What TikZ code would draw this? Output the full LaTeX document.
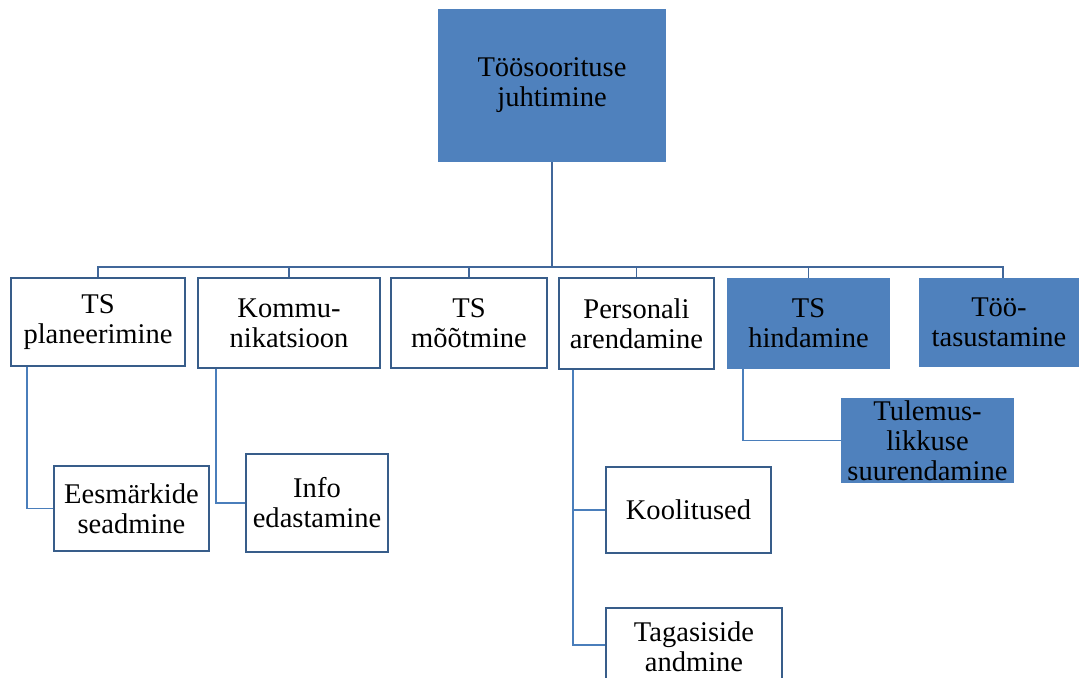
\documentclass[tikz,border=0pt]{standalone}
\usepackage{fontspec}
\setmainfont{Liberation Serif}
\usetikzlibrary{fit}
\definecolor{fillblue}{RGB}{79,129,189}
\definecolor{edgeblue}{RGB}{56,93,138}
\definecolor{linkblue}{RGB}{74,126,187}
\definecolor{buslink}{RGB}{65,103,154}
\tikzset{
  base/.style={inner sep=0pt, align=center, font=\fontsize{21.4pt}{22.5pt}\selectfont, text=black},
  wbox/.style={base, draw=edgeblue, line width=1.4pt, fill=white},
  bbox/.style={base, fill=fillblue, draw=none},
  link/.style={draw=linkblue, line width=1.3pt},
  buslinkstyle/.style={draw=buslink, line width=1.3pt},
}
\begin{document}
\begin{tikzpicture}[x=0.75pt, y=-0.75pt]
\clip (0,0) rectangle (1079,678);
\fill[white] (0,0) rectangle (1079,678);
% top
\node[bbox, fit={(438,9) (666,162)}] (top) {};
\node[base] at (top.center) {Töösoorituse\\juhtimine};
% level 1
\node[wbox, fit={(11,278) (185,366)}] (c1) {};
\node[base] at (c1.center) {TS\\planeerimine};
\node[wbox, fit={(198,278) (380,368)}] (c2) {};
\node[base] at (c2.center) {Kommu-\\nikatsioon};
\node[wbox, fit={(391,278) (547,368)}] (c3) {};
\node[base] at (c3.center) {TS\\mõõtmine};
\node[wbox, fit={(559,278) (714,369)}] (c4) {};
\node[base] at (c4.center) {Personali\\arendamine};
\node[bbox, fit={(727,278) (890,369)}] (c5) {};
\node[base] at (c5.center) {TS\\hindamine};
\node[bbox, fit={(919,278) (1083,367)}] (c6) {};
\node[base] at ([xshift=-1.5pt]c6.center) {Töö-\\tasustamine};
% level 2
\node[wbox, fit={(54,466) (209,551)}] (g1) {};
\node[base] at (g1.center) {Eesmärkide\\seadmine};
\node[wbox, fit={(246,454) (388,552)}] (g2) {};
\node[base] at (g2.center) {Info\\edastamine};
\node[wbox, fit={(606,467) (771,553)}] (g3) {};
\node[base] at (g3.center) {Koolitused};
\node[wbox, fit={(606,608) (782,682)}] (g4) {};
\node[base] at ([yshift=-1pt]g4.center) {Tagasiside\\andmine};
\node[bbox, fit={(841,398) (1014,483)}] (g5) {};
\node[base] at (g5.center) {Tulemus-\\likkuse\\suurendamine};
% bus
\coordinate (bus) at (552,267);
\draw[buslinkstyle] (top.south) -- (bus);
\draw[buslinkstyle] (c1.north) |- (bus) -| ([xshift=1.5pt]c6.north);
\draw[buslinkstyle] (c2.north) -- (c2.north |- bus);
\draw[buslinkstyle] (c3.north) -- (c3.north |- bus);
\draw[buslinkstyle] (c4.north) -- (c4.north |- bus);
\draw[buslinkstyle] (c5.north) -- (c5.north |- bus);
% sub-links
\draw[link] ([xshift=12.75pt]c1.south west) |- (g1.west);
\draw[link] ([xshift=14.25pt]c2.south west) |- (g2.west);
\draw[link] ([xshift=11.25pt]c4.south west) |- (g3.west);
\draw[link] ([xshift=11.25pt]c4.south west) |- (g4.north west |- 0,645);
\draw[link] ([xshift=12pt]c5.south west) |- (g5.west);
\end{tikzpicture}
\end{document}
